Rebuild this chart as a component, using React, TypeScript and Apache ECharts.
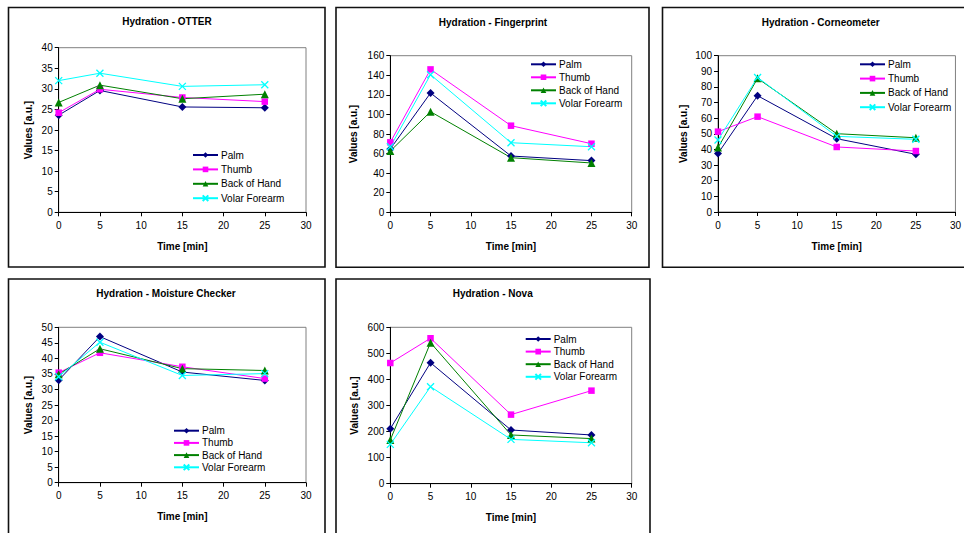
import React, { useEffect, useRef } from "react";
import * as echarts from "echarts";

const times = [0, 5, 15, 25];
const seriesNames = ["Palm", "Thumb", "Back of Hand", "Volar Forearm"];
const titles = [
  "Hydration - OTTER",
  "Hydration - Fingerprint",
  "Hydration - Corneometer",
  "Hydration - Moisture Checker",
  "Hydration - Nova",
];

// values per panel: [Palm, Thumb, Back of Hand, Volar Forearm]
const otter = [
  [23.6, 29.6, 25.6, 25.4],
  [24.2, 29.9, 27.9, 26.9],
  [26.7, 30.9, 27.6, 28.7],
  [32.0, 33.8, 30.6, 31.0],
];
const fingerprint = [
  [64.7, 121.9, 57.5, 52.8],
  [71.5, 146, 88.5, 70.1],
  [62.6, 102.8, 55.8, 50.4],
  [67, 140.6, 71.1, 67],
];
const corneometer = [
  [37.5, 74.4, 46.9, 36.9],
  [51.4, 61, 41.6, 39],
  [41.2, 85.5, 50.1, 47.5],
  [46.1, 86.1, 48.4, 46.5],
];
const moistureChecker = [
  [33.0, 47.0, 35.6, 32.9],
  [35.4, 41.8, 37.3, 33.5],
  [34.9, 43.1, 36.7, 36.1],
  [34.1, 45.2, 34.5, 35.1],
];
const nova = [
  [211, 464, 206, 187],
  [463, 558, 265, 357],
  [168, 541, 187, 173],
  [151, 372, 170, 157],
];
const panelData = [otter, fingerprint, corneometer, moistureChecker, nova];
const yMax = [40, 160, 100, 50, 600];
const yInterval = [5, 20, 10, 5, 100];
const xTicks = { min: 0, max: 30, interval: 5 };

const colors = ["#000080", "#FF00FF", "#008000", "#00FFFF"];
const symbols = ["diamond", "rect", "triangle", "path://M0,0L10,10M10,0L0,10"];
const symbolSizes = [8, 6.5, 8, 7];

// layout
const grids = [
  { left: 58.7, top: 47.7, width: 247.3, height: 164.6 },
  { left: 390.3, top: 55.7, width: 241.4, height: 156.6 },
  { left: 718, top: 55.7, width: 241, height: 156.3 },
  { left: 58.7, top: 327.3, width: 247.3, height: 155.4 },
  { left: 390.3, top: 327.3, width: 241.4, height: 156.4 },
];
const panels = [
  { x: 8.5, y: 7.5, w: 316.5, h: 259.5 },
  { x: 336, y: 7.5, w: 313, h: 259.8 },
  { x: 662.5, y: 7.5, w: 330, h: 259.8 },
  { x: 8.5, y: 279, w: 316.5, h: 280 },
  { x: 336, y: 279, w: 314, h: 280 },
];
const titlePos = [
  [167, 22.7],
  [493, 23],
  [820.7, 23],
  [166, 294.3],
  [492.7, 294],
];
const legendPos = [
  { left: 192, top: 150, gap: 4.4 },
  { left: 530, top: 59.3, gap: 3 },
  { left: 859, top: 59.3, gap: 4.3 },
  { left: 173, top: 425.7, gap: 2.2 },
  { left: 524.7, top: 334, gap: 2.6 },
];
const yNameGap = [25, 32, 30, 25, 31];

const FONT = "'Liberation Sans', Arial, sans-serif";

export default function App() {
  const ref = useRef<HTMLDivElement>(null);
  useEffect(() => {
    if (!ref.current) return;
    const chart = echarts.init(ref.current, null, { renderer: "svg" });
    const series: any[] = [];
    panelData.forEach((panel, p) => {
      panel.forEach((vals, s) => {
        series.push({
          type: "line",
          name: seriesNames[s],
          xAxisIndex: p,
          yAxisIndex: p,
          data: vals.map((v, i) => [times[i], v]),
          symbol: symbols[s],
          symbolSize: symbolSizes[s],
          showAllSymbol: true,
          lineStyle: { color: colors[s], width: 1 },
          itemStyle: {
            color: colors[s],
            borderColor: colors[s],
            borderWidth: s === 3 ? 1.3 : 0,
          },
          emphasis: { disabled: true },
          z: 3,
        });
      });
    });
    chart.setOption({
      animation: false,
      backgroundColor: "#ffffff",
      textStyle: { fontFamily: FONT },
      title: titles.map((t, i) => ({
        text: t,
        left: titlePos[i][0],
        top: titlePos[i][1] - 6,
        textAlign: "center",
        padding: 0,
        textStyle: { fontSize: 10, fontWeight: "bold", color: "#000", fontFamily: FONT },
      })),
      legend: legendPos.map((l) => ({
        data: seriesNames,
        orient: "vertical",
        left: l.left,
        top: l.top,
        padding: 0,
        itemGap: l.gap,
        itemWidth: 25,
        itemHeight: 7,
        selectedMode: false,
        textStyle: { fontSize: 10, color: "#000", fontFamily: FONT, padding: [0, 0, 0, -2] },
      })),
      grid: grids.map((g) => ({
        ...g,
        show: true,
        borderColor: "#808080",
        borderWidth: 1,
        backgroundColor: "transparent",
        containLabel: false,
      })),
      xAxis: grids.map((_, i) => ({
        type: "value",
        gridIndex: i,
        min: xTicks.min,
        max: xTicks.max,
        interval: xTicks.interval,
        name: "Time [min]",
        nameLocation: "middle",
        nameGap: 29,
        nameTextStyle: { fontSize: 10, fontWeight: "bold", color: "#000", fontFamily: FONT },
        axisLine: { show: true, lineStyle: { color: "#000", width: 1 } },
        axisTick: { show: true, inside: false, length: 4, lineStyle: { color: "#000" } },
        axisLabel: { fontSize: 10, color: "#000", margin: 8, fontFamily: FONT },
        splitLine: { show: false },
      })),
      yAxis: grids.map((_, i) => ({
        type: "value",
        gridIndex: i,
        min: 0,
        max: yMax[i],
        interval: yInterval[i],
        name: "Values [a.u.]",
        nameLocation: "middle",
        nameGap: yNameGap[i],
        nameTextStyle: { fontSize: 10, fontWeight: "bold", color: "#000", fontFamily: FONT },
        axisLine: { show: true, lineStyle: { color: "#000", width: 1 } },
        axisTick: { show: true, inside: false, length: 4, lineStyle: { color: "#000" } },
        axisLabel: { fontSize: 10, color: "#000", margin: 6, fontFamily: FONT },
        splitLine: { show: false },
      })),
      graphic: panels.map((pn) => ({
        type: "rect",
        shape: { x: pn.x, y: pn.y, width: pn.w, height: pn.h },
        style: { fill: "none", stroke: "#111", lineWidth: 1.6 },
        silent: true,
        z: 0,
      })),
      series,
    });
    return () => chart.dispose();
  }, []);
  return (
    <div
      ref={ref}
      style={{ position: "fixed", left: 0, top: 0, width: 964, height: 533, background: "#fff" }}
    />
  );
}
